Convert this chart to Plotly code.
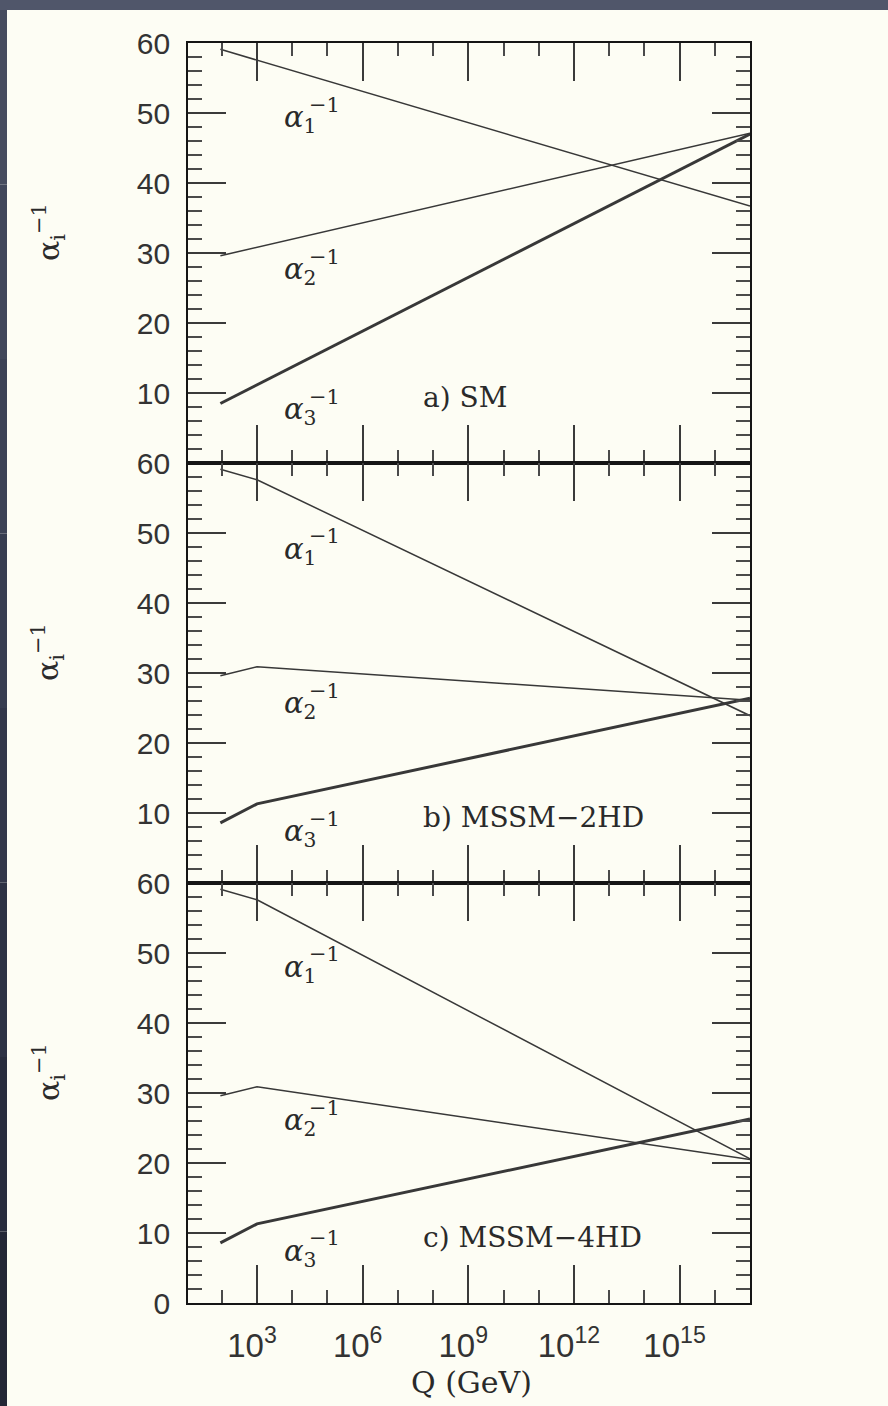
import plotly.graph_objects as go
from plotly.subplots import make_subplots

# ---- running inverse couplings alpha_i^-1 versus scale Q (GeV) ----
q_sm = [91.19, 1e17]
sm_inv_a1 = [59.1, 36.7]
sm_inv_a2 = [29.6, 47.1]
sm_inv_a3 = [8.5, 47.0]

q_mssm = [91.19, 1e3, 1e17]
mssm2_inv_a1 = [59.1, 57.6, 23.9]
mssm2_inv_a2 = [29.6, 30.9, 26.1]
mssm2_inv_a3 = [8.6, 11.3, 26.4]

mssm4_inv_a1 = [59.1, 57.6, 20.6]
mssm4_inv_a2 = [29.6, 30.9, 20.5]
mssm4_inv_a3 = [8.6, 11.3, 26.3]

panel_names = ["a) SM", "b) MSSM\u22122HD", "c) MSSM\u22124HD"]
x_tick_exponents = [3, 6, 9, 12, 15]
x_minor_exponents = [2, 4, 5, 7, 8, 10, 11, 13, 14, 16]
y_ticks_upper = [10, 20, 30, 40, 50, 60]
y_ticks_lower = [0, 10, 20, 30, 40, 50, 60]

W, H = 888, 1406
ML, MR, MT, MB = 188, 138, 43, 103
CREAM = "#fdfdf4"
INK = "#383838"
FRAME = "#151515"
SANS = "Liberation Sans, Arial, sans-serif"
SERIF = "DejaVu Serif, serif"


def px_x(px):
    return (px - ML) / (W - ML - MR)


def px_y(py):
    return (H - MB - py) / (H - MT - MB)


fig = make_subplots(rows=3, cols=1, shared_xaxes=True, vertical_spacing=0)

panels = [
    (q_sm, sm_inv_a1, sm_inv_a2, sm_inv_a3),
    (q_mssm, mssm2_inv_a1, mssm2_inv_a2, mssm2_inv_a3),
    (q_mssm, mssm4_inv_a1, mssm4_inv_a2, mssm4_inv_a3),
]

for row, (q, a1, a2, a3) in enumerate(panels, start=1):
    for vals, lw in ((a1, 1.5), (a2, 1.5), (a3, 3.0)):
        fig.add_trace(
            go.Scatter(x=q, y=vals, mode="lines", showlegend=False,
                       line=dict(color=INK, width=lw), hoverinfo="skip"),
            row=row, col=1,
        )

for row in (1, 2, 3):
    fig.update_yaxes(
        row=row, col=1,
        range=[0, 60], tickmode="array",
        tickvals=y_ticks_lower if row == 3 else y_ticks_upper,
        ticks="inside", ticklen=38, tickwidth=1.8, tickcolor="#3a3a3a",
        minor=dict(ticks="inside", ticklen=14, tickwidth=1.8, tickcolor="#4a4a4a",
                   tickmode="linear", tick0=0, dtick=2, showgrid=False),
        showline=True, linecolor=FRAME, linewidth=1.8, mirror="ticks",
        showgrid=False, zeroline=False,
        tickfont=dict(family=SANS, size=30, color="#333333"),
        ticklabelstandoff=10,
    )
    fig.update_xaxes(
        row=row, col=1,
        type="log", range=[1.04, 17.0],
        tickmode="array",
        tickvals=[10.0 ** e for e in x_tick_exponents],
        ticktext=[f"10<sup>{e}</sup>" for e in x_tick_exponents],
        ticks="inside", ticklen=38, tickwidth=1.8, tickcolor="#3a3a3a",
        minor=dict(ticks="inside", ticklen=13, tickwidth=1.8, tickcolor="#4a4a4a",
                   tickmode="array", tickvals=[10.0 ** e for e in x_minor_exponents],
                   showgrid=False),
        showline=True, linecolor=FRAME, linewidth=1.8, mirror="ticks",
        showgrid=False, zeroline=False,
        showticklabels=(row == 3),
        tickfont=dict(family=SANS, size=33, color="#333333"),
        ticklabelstandoff=12, ticklabelshift=-5,
    )

annotations = []
# curve labels: alpha with index, and the -1 exponent drawn above the index
label_rows = [
    # (alpha1 y, alpha2 y, alpha3 y) in panel data units
    (49.1, 27.4, 7.4),
    (47.5, 25.4, 7.1),
    (47.7, 25.8, 7.2),
]
for row, ys in enumerate(label_rows, start=1):
    xr = "x" if row == 1 else f"x{row}"
    yr = "y" if row == 1 else f"y{row}"
    for idx, yv in enumerate(ys, start=1):
        annotations.append(dict(
            x=3.72, y=yv, xref=xr, yref=yr, xanchor="left", yanchor="middle",
            text=f"<i>\u03b1</i><sub>{idx}</sub>", showarrow=False,
            font=dict(family=SERIF, size=29, color="#2a2a2a"),
        ))
        annotations.append(dict(
            x=4.43, y=yv + 2.1, xref=xr, yref=yr, xanchor="left", yanchor="middle",
            text="\u22121", showarrow=False,
            font=dict(family=SERIF, size=21, color="#2a2a2a"),
        ))
    annotations.append(dict(
        x=7.67, y=9.4, xref=xr, yref=yr, xanchor="left", yanchor="middle",
        text=panel_names[row - 1], showarrow=False,
        font=dict(family=SERIF, size=28, color="#2a2a2a"),
    ))
    # vertical axis title for each panel
    annotations.append(dict(
        x=px_x(48), y=px_y(232 + 420 * (row - 1)), xref="paper", yref="paper",
        xanchor="center", yanchor="middle", textangle=-90,
        text="\u03b1<sub>i</sub><sup>\u22121</sup>", showarrow=False,
        font=dict(family=SERIF, size=30, color="#2a2a2a"),
    ))

annotations.append(dict(
    x=px_x(471), y=px_y(1382), xref="paper", yref="paper",
    xanchor="center", yanchor="middle", text="Q (GeV)", showarrow=False,
    font=dict(family=SERIF, size=30, color="#2a2a2a"),
))

# slide-style dark border strips along the top and left edges
shapes = [
    dict(type="rect", xref="paper", yref="paper", layer="below",
         x0=px_x(0), x1=px_x(W), y0=px_y(0), y1=px_y(10),
         fillcolor="#50566a", line=dict(width=0)),
]
left_strip_colors = ["#464c5e", "#41475a", "#3c4255", "#373d50",
                     "#32374a", "#2d3244", "#282c3d", "#232736"]
seg = (H - 10) / len(left_strip_colors)
for i, c in enumerate(left_strip_colors):
    shapes.append(dict(
        type="rect", xref="paper", yref="paper", layer="below",
        x0=px_x(0), x1=px_x(7), y0=px_y(10 + seg * (i + 1)), y1=px_y(10 + seg * i),
        fillcolor=c, line=dict(width=0),
    ))

fig.update_layout(
    width=W, height=H,
    margin=dict(l=ML, r=MR, t=MT, b=MB),
    paper_bgcolor=CREAM, plot_bgcolor=CREAM,
    annotations=annotations, shapes=shapes,
    showlegend=False,
)

fig.write_html("out.html")
